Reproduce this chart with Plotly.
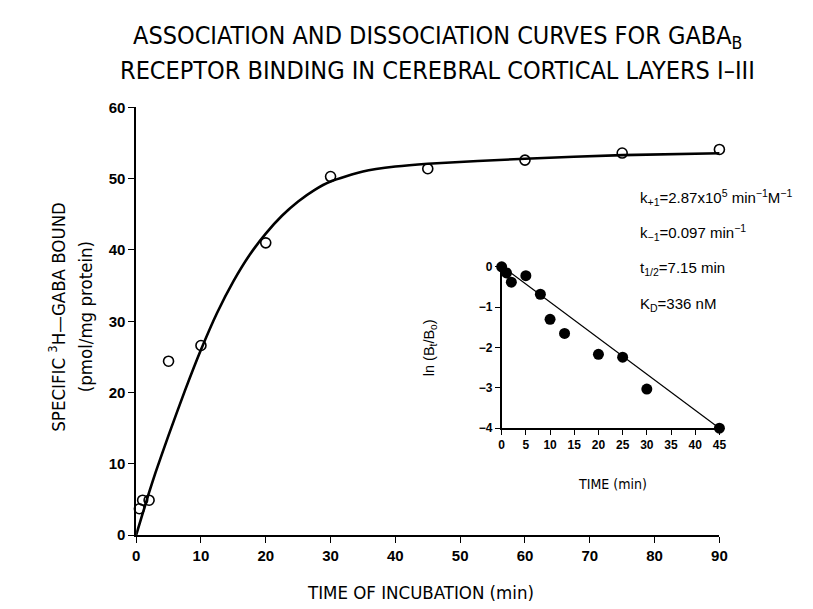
import plotly.graph_objects as go

# Association data (open circles)
assoc_time = [0.5, 1, 2, 5, 10, 20, 30, 45, 60, 75, 90]
assoc_bound = [3.7, 4.9, 4.9, 24.4, 26.6, 41.0, 50.3, 51.4, 52.6, 53.6, 54.1]

# Fitted association curve
curve_time = [0, 1, 2, 3, 5, 7.5, 10, 12.5, 15, 17.5, 20, 22.5, 25, 27.5, 30, 35, 40, 45, 60, 75, 92]
curve_bound = [0, 3.0, 6.0, 8.8, 14.0, 20.2, 26.0, 31.2, 35.6, 39.3, 42.3, 44.8, 46.8, 48.4,
               49.6, 51.0, 51.7, 52.1, 52.8, 53.3, 53.6]

# Dissociation inset data (filled circles)
dis_time = [0, 1, 2, 5, 8, 10, 13, 20, 25, 30, 45]
dis_ln = [0, -0.15, -0.38, -0.22, -0.68, -1.30, -1.65, -2.17, -2.24, -3.03, -4.0]
fit_time = [0, 45]
fit_ln = [0.02, -4.0]

main_xticks = [0, 10, 20, 30, 40, 50, 60, 70, 80, 90]
main_yticks = [0, 10, 20, 30, 40, 50, 60]
inset_xticks = [0, 5, 10, 15, 20, 25, 30, 35, 40, 45]
inset_yticks = [0, -1, -2, -3, -4]

FONT = "Liberation Sans Narrow, DejaVu Sans Condensed, Arial Narrow, sans-serif"
TFONT = "Liberation Sans, Arial, sans-serif"

W, H = 813, 609
def fx(px):
    return px / W
def fy(py):
    return (H - py) / H

fig = go.Figure()
fig.add_trace(go.Scatter(x=curve_time, y=curve_bound, mode="lines",
                         line=dict(color="black", width=2.6, shape="spline", smoothing=0.6),
                         xaxis="x", yaxis="y", showlegend=False, cliponaxis=False))
fig.add_trace(go.Scatter(x=assoc_time, y=assoc_bound, mode="markers",
                         marker=dict(symbol="circle-open", size=10, color="black", line=dict(width=1.6)),
                         xaxis="x", yaxis="y", showlegend=False, cliponaxis=False))
fig.add_trace(go.Scatter(x=fit_time, y=fit_ln, mode="lines",
                         line=dict(color="black", width=1.2),
                         xaxis="x2", yaxis="y2", showlegend=False, cliponaxis=False))
fig.add_trace(go.Scatter(x=dis_time, y=dis_ln, mode="markers",
                         marker=dict(symbol="circle", size=11, color="black"),
                         xaxis="x2", yaxis="y2", showlegend=False, cliponaxis=False))

axis_common = dict(showgrid=False, zeroline=False, showline=True, linecolor="black",
                   linewidth=1.6, ticks="outside", tickcolor="black", tickwidth=1.4,
                   color="black")

fig.update_layout(
    width=W, height=H,
    margin=dict(l=0, r=0, t=0, b=0),
    paper_bgcolor="white", plot_bgcolor="white",
    font=dict(family=TFONT, color="black"),
    xaxis=dict(domain=[fx(126), fx(718)], range=[0, 90], tickvals=main_xticks,
               ticklen=6, tickfont=dict(size=15, family=TFONT, weight="bold"), anchor="y",
               **axis_common),
    yaxis=dict(domain=[fy(533), fy(93)], range=[0, 60], tickvals=main_yticks,
               ticklen=6, tickfont=dict(size=15, family=TFONT, weight="bold"), anchor="x",
               **axis_common),
    xaxis2=dict(domain=[fx(497), fx(718)], range=[0, 45], tickvals=inset_xticks,
                ticklen=5, tickfont=dict(size=12, family=TFONT, weight="bold"), anchor="y2",
                **axis_common),
    yaxis2=dict(domain=[fy(423), fy(257)], range=[-4, 0], tickvals=inset_yticks,
                ticklen=5, tickfont=dict(size=12, family=TFONT, weight="bold"), anchor="x2",
                **axis_common),
)

ann = []
ann.append(dict(text="ASSOCIATION AND DISSOCIATION CURVES FOR GABA<sub>B</sub>",
                x=fx(432), y=fy(21), xref="paper", yref="paper", showarrow=False,
                font=dict(size=25, family=FONT), xanchor="center", yanchor="middle"))
ann.append(dict(text="RECEPTOR BINDING IN CEREBRAL CORTICAL LAYERS I\u2013III",
                x=fx(432), y=fy(55), xref="paper", yref="paper", showarrow=False,
                font=dict(size=25, family=FONT), xanchor="center", yanchor="middle"))
ann.append(dict(text="SPECIFIC <sup>3</sup>H\u2014GABA BOUND",
                x=fx(46), y=fy(308), xref="paper", yref="paper", showarrow=False,
                textangle=-90, font=dict(size=18.5, family=FONT), xanchor="center", yanchor="middle"))
ann.append(dict(text="(pmol/mg protein)",
                x=fx(74), y=fy(308), xref="paper", yref="paper", showarrow=False,
                textangle=-90, font=dict(size=18.5, family=FONT), xanchor="center", yanchor="middle"))
ann.append(dict(text="TIME OF INCUBATION (min)",
                x=fx(415), y=fy(592), xref="paper", yref="paper", showarrow=False,
                font=dict(size=18.5, family=FONT), xanchor="center", yanchor="middle"))
ann.append(dict(text="ln (B<sub>t</sub>/B<sub>o</sub>)",
                x=fx(424), y=fy(340), xref="paper", yref="paper", showarrow=False,
                textangle=-90, font=dict(size=14.5, family=TFONT), xanchor="center", yanchor="middle"))
ann.append(dict(text="TIME (min)",
                x=fx(610), y=fy(480), xref="paper", yref="paper", showarrow=False,
                font=dict(size=14, family=FONT), xanchor="center", yanchor="middle"))
params = ["k<sub>+1</sub>=2.87x10<sup>5</sup> min<sup>\u22121</sup>M<sup>\u22121</sup>",
          "k<sub>\u22121</sub>=0.097 min<sup>\u22121</sup>",
          "t<sub>1/2</sub>=7.15 min",
          "K<sub>D</sub>=336 nM"]
param_y = [186, 222, 259, 296]
for t, py in zip(params, param_y):
    ann.append(dict(text=t, x=fx(635), y=fy(py), xref="paper", yref="paper", showarrow=False,
                    font=dict(size=15, family=TFONT), xanchor="left", yanchor="middle"))
fig.update_layout(annotations=ann)

fig.write_html("out.html")
